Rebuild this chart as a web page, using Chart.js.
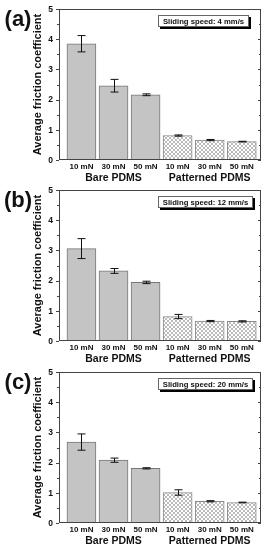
<!DOCTYPE html>
<html>
<head>
<meta charset="utf-8">
<script src="https://cdn.jsdelivr.net/npm/chart.js@4.4.0/dist/chart.umd.min.js"></script>
<style>
html,body{margin:0;padding:0;background:#fff;}
#wrap{position:relative;width:267px;height:550px;overflow:hidden;}
.pane{position:absolute;left:0;width:267px;}
</style>
</head>
<body>
<div id="wrap">
  <div class="pane" style="top:0;height:183px"><canvas id="c0"></canvas></div>
  <div class="pane" style="top:181px;height:183px"><canvas id="c1"></canvas></div>
  <div class="pane" style="top:363px;height:187px"><canvas id="c2"></canvas></div>
</div>
<script>
// ---- data ----
const categories = ['10 mN','30 mN','50 mN','10 mN','30 mN','50 mN'];
const groups = ['Bare PDMS','Patterned PDMS'];
const groupPositions = [2, 5];
const panelLabels = ['(a)','(b)','(c)'];
const speeds = ['Sliding speed: 4 mm/s','Sliding speed: 12 mm/s','Sliding speed: 20 mm/s'];
const valuesA = [3.85, 2.46, 2.16, 0.81, 0.66, 0.61];
const errorsA = [0.27, 0.21, 0.03, 0.02, 0.02, 0.01];
const valuesB = [3.06, 2.32, 1.94, 0.81, 0.66, 0.65];
const errorsB = [0.33, 0.08, 0.04, 0.07, 0.02, 0.02];
const valuesC = [2.68, 2.08, 1.81, 1.01, 0.72, 0.68];
const errorsC = [0.27, 0.07, 0.02, 0.09, 0.02, 0.01];
const yTicks = [0, 1, 2, 3, 4, 5];
const yTitle = 'Average friction coefficient';

const panelValues = [valuesA, valuesB, valuesC];
const panelErrors = [errorsA, errorsB, errorsC];

// ---- styles ----
const FONT = '"Liberation Sans", Arial, sans-serif';
function makePattern(){
  const c = document.createElement('canvas');
  c.width = 4; c.height = 4;
  const g = c.getContext('2d');
  g.fillStyle = '#ffffff'; g.fillRect(0,0,4,4);
  g.strokeStyle = '#a8a8a8'; g.lineWidth = 0.8;
  g.beginPath(); g.moveTo(0,0); g.lineTo(4,4); g.moveTo(4,0); g.lineTo(0,4); g.stroke();
  return g.createPattern(c, 'repeat');
}
const pattern = makePattern();
const solid = '#c4c4c4';

const decor = {
  id: 'decor',
  afterDatasetsDraw(chart, args, opts) {
    const ctx = chart.ctx;
    const ca = chart.chartArea;
    const y = chart.scales.y;
    const x = chart.scales.x;
    const x2 = chart.scales.x2;
    ctx.save();
    // error bars
    ctx.strokeStyle = '#111'; ctx.lineWidth = 1;
    opts.values.forEach((v, i) => {
      const px = Math.round(x.getPixelForValue(i + 1)) + 0.5;
      const top = y.getPixelForValue(v + opts.errors[i]);
      const bot = y.getPixelForValue(v - opts.errors[i]);
      ctx.beginPath();
      ctx.moveTo(px, top); ctx.lineTo(px, bot);
      ctx.moveTo(px - 4, top); ctx.lineTo(px + 4, top);
      ctx.moveTo(px - 4, bot); ctx.lineTo(px + 4, bot);
      ctx.stroke();
    });
    // frame
    ctx.strokeStyle = '#444'; ctx.lineWidth = 1;
    ctx.strokeRect(Math.round(ca.left) + 0.5, Math.round(ca.top) + 0.5,
                   Math.round(ca.right - ca.left) - 1, Math.round(ca.bottom - ca.top) - 1);
    // y ticks: outside left, inside right
    for (let t = 0; t <= 5; t += 0.5) {
      const py = Math.round(y.getPixelForValue(t)) + 0.5;
      const len = (t % 1 === 0) ? 3 : 2;
      ctx.beginPath();
      ctx.moveTo(ca.left, py); ctx.lineTo(ca.left - len, py);
      ctx.moveTo(ca.right, py); ctx.lineTo(ca.right - len, py);
      ctx.stroke();
    }
    ctx.fillStyle = '#111';
    // y tick labels
    ctx.textAlign = 'right'; ctx.textBaseline = 'middle';
    ctx.font = 'bold 8.5px ' + FONT;
    yTicks.forEach(t => ctx.fillText(String(t), ca.left - 6, y.getPixelForValue(t) + 0.5));
    // x category labels and group labels (positions from the scales)
    ctx.textAlign = 'center';
    ctx.font = 'bold 8px ' + FONT;
    categories.forEach((c, i) => {
      ctx.fillText(c, x.getPixelForValue(i + 1), x.top + 6.5);
    });
    ctx.font = 'bold 10.5px ' + FONT;
    groups.forEach((g, i) => {
      ctx.fillText(g, x2.getPixelForValue(groupPositions[i]), x2.top + 6.5);
    });
    // legend box
    ctx.font = 'bold 7.7px ' + FONT;
    const tw = ctx.measureText(opts.speed).width;
    const bx = 158, by = ca.top + 6, bh = 12;
    const bw = Math.min(Math.round(tw + 10), Math.floor(ca.right - 4 - bx));
    ctx.fillStyle = '#000';
    ctx.fillRect(bx + 2, by + 2, bw, bh);
    ctx.fillStyle = '#fff';
    ctx.fillRect(bx, by, bw, bh);
    ctx.strokeStyle = '#666';
    ctx.strokeRect(bx + 0.5, by + 0.5, bw - 1, bh - 1);
    ctx.fillStyle = '#111';
    ctx.fillText(opts.speed, bx + bw / 2, by + bh / 2 + 0.5);
    // y title
    ctx.save();
    ctx.translate(38, (ca.top + ca.bottom) / 2);
    ctx.rotate(-Math.PI / 2);
    ctx.font = 'bold 11px ' + FONT;
    ctx.fillText(yTitle, 0, 0);
    ctx.restore();
    // panel label
    ctx.font = 'bold 22px ' + FONT;
    ctx.textBaseline = 'alphabetic';
    ctx.fillText(opts.label, 18, ca.top + 17);
    ctx.restore();
  }
};

function build(idx) {
  const vals = panelValues[idx];
  const padBottom = idx === 2 ? 4 : 0;
  new Chart(document.getElementById('c' + idx), {
    type: 'bar',
    data: {
      datasets: [{
        data: vals.map((v, i) => ({ x: i + 1, y: v })),
        backgroundColor: vals.map((v, i) => i < 3 ? solid : pattern),
        borderColor: vals.map((v, i) => i < 3 ? '#777' : '#8a8a8a'),
        borderWidth: 1,
        barThickness: 29
      }]
    },
    options: {
      responsive: true,
      maintainAspectRatio: false,
      animation: false,
      layout: { padding: { left: 0, top: 9, right: 6, bottom: padBottom } },
      plugins: {
        legend: { display: false },
        tooltip: { enabled: false },
        decor: { values: vals, errors: panelErrors[idx], speed: speeds[idx], label: panelLabels[idx] }
      },
      scales: {
        x: {
          type: 'linear', min: 0.3, max: 6.6, weight: 0, offset: false,
          grid: { display: false }, border: { display: false },
          ticks: { display: false },
          afterFit: s => { s.height = 12; }
        },
        x2: {
          type: 'linear', position: 'bottom', min: 0.3, max: 6.6, weight: 1, offset: false,
          grid: { display: false }, border: { display: false },
          ticks: { display: false },
          afterFit: s => { s.height = 11; }
        },
        y: {
          min: 0, max: 5,
          grid: { display: false }, border: { display: false },
          ticks: { display: false },
          afterFit: s => { s.width = 59; }
        }
      }
    },
    plugins: [decor]
  });
}
[0, 1, 2].forEach(build);
</script>
</body>
</html>
